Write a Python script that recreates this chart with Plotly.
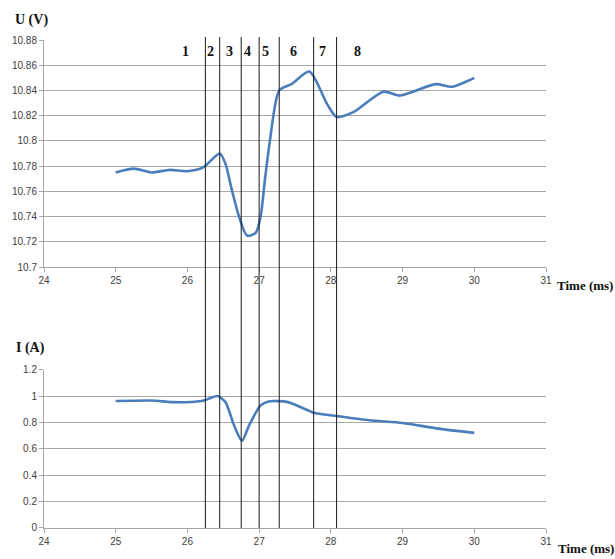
import plotly.graph_objects as go
from plotly.subplots import make_subplots

# Voltage U (V) vs time (ms)
t_u = [25.0, 25.25, 25.5, 25.75, 26.0, 26.22, 26.45, 26.53, 26.62, 26.72, 26.83, 26.95, 27.02,
       27.08, 27.15, 27.28, 27.45, 27.7, 27.95, 28.08, 28.32, 28.73, 28.96, 29.46, 29.69, 30.0]
u_vals = [10.775, 10.778, 10.775, 10.777, 10.776, 10.779, 10.790, 10.782, 10.761, 10.740,
          10.725, 10.727, 10.740, 10.769, 10.800, 10.840, 10.845, 10.855, 10.829, 10.819,
          10.823, 10.839, 10.836, 10.845, 10.843, 10.850]

# Current I (A) vs time (ms)
t_i = [25.0, 25.5, 25.78, 26.05, 26.23, 26.42, 26.53, 26.65, 26.76, 26.86, 27.02, 27.13,
       27.4, 27.63, 27.76, 28.08, 28.54, 29.0, 29.5, 30.0]
i_vals = [0.962, 0.966, 0.954, 0.955, 0.966, 1.0, 0.954, 0.778, 0.66, 0.778, 0.929, 0.959,
          0.954, 0.904, 0.874, 0.849, 0.816, 0.796, 0.753, 0.721]

# Phase boundaries (ms) and phase labels
boundaries = [26.25, 26.45, 26.75, 27.0, 27.28, 27.76, 28.08]
phase_labels = ["1", "2", "3", "4", "5", "6", "7", "8"]
phase_label_t = [25.98, 26.32, 26.58, 26.84, 27.09, 27.48, 27.89, 28.37]

x_ticks = [24, 25, 26, 27, 28, 29, 30, 31]

W, H = 615, 559
ml, mr, mt, mb = 39, 69, 40, 29
ph = H - mt - mb
pw = W - ml - mr

def py(ypix):
    return (H - mb - ypix) / ph

def px(xpix):
    return (xpix - ml) / pw

fig = make_subplots(rows=2, cols=1)
line_col = "#4A7EBB"
fig.add_trace(go.Scatter(x=t_u, y=u_vals, mode="lines", line=dict(color=line_col, width=2.6, shape="spline", smoothing=0.7),
                         showlegend=False, hoverinfo="skip"), row=1, col=1)
fig.add_trace(go.Scatter(x=t_i, y=i_vals, mode="lines", line=dict(color=line_col, width=2.6, shape="spline", smoothing=0.7),
                         showlegend=False, hoverinfo="skip"), row=2, col=1)

tickfont = dict(family="Liberation Sans Narrow, Liberation Sans, Arial", size=10, color="#404040")
grid = "#a6a6a6"
axis_common = dict(showline=True, linecolor=grid, linewidth=1, ticks="outside", ticklen=4,
                   tickcolor=grid, tickfont=tickfont, zeroline=False)

fig.update_layout(
    width=W, height=H, margin=dict(l=ml, r=mr, t=mt, b=mb),
    paper_bgcolor="white", plot_bgcolor="white",
    xaxis=dict(domain=[0, 1], range=[24, 31], tickvals=x_ticks, showgrid=False, **axis_common),
    yaxis=dict(domain=[py(268), 1], range=[10.7, 10.88], dtick=0.02, showgrid=True, gridcolor=grid, gridwidth=1, **axis_common),
    xaxis2=dict(domain=[0, 1], range=[24, 31], tickvals=x_ticks, showgrid=False, **axis_common),
    yaxis2=dict(domain=[0, py(371)], range=[0, 1.2], dtick=0.2, showgrid=True, gridcolor=grid, gridwidth=1, **axis_common),
)

for b in boundaries:
    fig.add_shape(type="line", xref="x", yref="paper", x0=b, x1=b, y0=0, y1=py(37),
                  line=dict(color="#1a1a1a", width=1))

serif_bold = dict(family="Liberation Serif, Times New Roman, serif", size=14, color="#111111")
serif_bold_small = dict(family="Liberation Serif, Times New Roman, serif", size=13, color="#111111")
for lab, tx in zip(phase_labels, phase_label_t):
    fig.add_annotation(x=tx, y=py(52), xref="x", yref="paper", text="<b>%s</b>" % lab,
                       showarrow=False, font=serif_bold, xanchor="center", yanchor="middle")

fig.add_annotation(x=px(8), y=py(20), xref="paper", yref="paper", text="<b>U (V)</b>",
                   showarrow=False, font=serif_bold, xanchor="left", yanchor="middle")
fig.add_annotation(x=px(9), y=py(349), xref="paper", yref="paper", text="<b>I (A)</b>",
                   showarrow=False, font=serif_bold, xanchor="left", yanchor="middle")
fig.add_annotation(x=px(555), y=py(287), xref="paper", yref="paper", text="<b>Time (ms)</b>",
                   showarrow=False, font=serif_bold_small, xanchor="left", yanchor="middle")
fig.add_annotation(x=px(556), y=py(551), xref="paper", yref="paper", text="<b>Time (ms)</b>",
                   showarrow=False, font=serif_bold_small, xanchor="left", yanchor="middle")

fig.write_html("out.html", config={"displayModeBar": False},
               post_script="document.body.style.margin='0';document.body.style.overflow='hidden';")
